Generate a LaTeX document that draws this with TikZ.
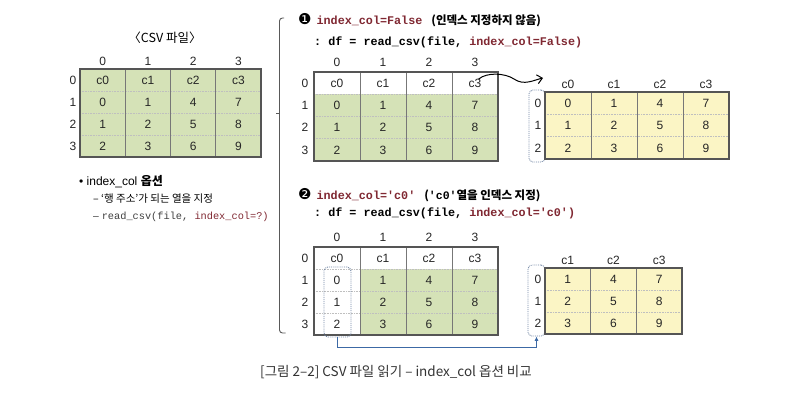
\documentclass[tikz,border=0pt]{standalone}
\usepackage{fontspec}
\setmainfont{Liberation Sans}
\setmonofont{Liberation Mono}
\newfontfamily\kr{Noto Sans CJK KR}
\newfontfamily\dingfont{DejaVu Sans}
\usetikzlibrary{arrows.meta, positioning, calc}

\definecolor{cellgreen}{RGB}{213,226,183}
\definecolor{cellyellow}{RGB}{251,245,197}
\definecolor{gridgray}{RGB}{85,85,85}
\definecolor{codered}{RGB}{128,40,50}
\definecolor{idxblue}{RGB}{115,135,165}
\definecolor{linkblue}{RGB}{60,105,165}

\begin{document}
\begin{tikzpicture}[x=1pt, y=-1pt,
  cell/.style={font=\fontsize{12}{14}\selectfont, text=black!85, text height=8.6pt, text depth=0pt, inner sep=1pt},
  frame/.style={draw=gridgray, line width=1.2pt},
  colline/.style={draw=gridgray!80, line width=0.6pt},
  rowline/.style={draw=gray!50, densely dotted, line width=0.6pt},
  idxbox/.style={draw=idxblue, densely dotted, rounded corners=4pt, line width=0.9pt, inner sep=0pt},
  heading/.style={font=\fontsize{11.5}{13}\selectfont, anchor=west, inner sep=0pt},
  codeline/.style={font=\ttfamily\bfseries\fontsize{11.75}{14}\selectfont, anchor=west, inner sep=0pt},
  note/.style={font=\fontsize{11.5}{13}\selectfont, anchor=west, inner sep=0pt},
  bracket/.style={draw=gray!70!black, line width=0.9pt, rounded corners=3pt},
  curvearr/.style={-{Straight Barb[length=5pt, width=9pt]}, line width=1pt},
  linkarr/.style={-{Latex[length=4.5pt, width=4pt]}, draw=linkblue, line width=0.8pt},
]
  \fill[white] (0,0) rectangle (788,418);
  \useasboundingbox (0,0) rectangle (788,418);

  % CSV file
  \node[font=\kr\fontsize{12.5}{15}\selectfont] (csvtitle) at (165,38) {〈CSV 파일〉};
  \fill[cellgreen] (80,69) rectangle (261,157);
  \foreach \y in {91,113,135} \draw[rowline] (80,\y) -- (261,\y);
  \foreach \x in {125.25,170.5,215.75} \draw[colline] (\x,69) -- (\x,157);
  \draw[frame] (80,69) rectangle (261,157);
  \foreach \c in {0,...,3} \node[cell] (csvcol\c) at (102.6+45.25*\c,61) {\c};
  \foreach \row [count=\r from 0] in {{c0,c1,c2,c3},{0,1,4,7},{1,2,5,8},{2,3,6,9}} {
    \node[cell] (csvrow\r) at (73,80+22*\r) {\r};
    \foreach \v [count=\c from 0] in \row
      \node[cell] (csv-\r-\c) at (102.6+45.25*\c,80+22*\r) {\v};
  }

  % index_col note
  \node[note, font=\fontsize{12}{14}\selectfont] (optitle) at (79,182) {• index\_col {\kr\bfseries 옵션}};
  \node[note, font=\kr\fontsize{10.5}{13}\selectfont] (opline1) at (93,199) {– ‘행 주소’가 되는 열을 지정};
  \node[note, font=\fontsize{10.3}{12}\selectfont, text=black!75] (opline2) at (93,217) {– {\ttfamily read\_csv(file, \textcolor{codered}{index\_col=?)}}};

  % bracket
  \draw[bracket] (284,18) -- (279.5,18) -- (279.5,333) -- (285.5,333);
  \draw[bracket] (276,113.5) -- (279.5,113.5);

  % index_col=False
  \node[heading] (head1) at (298,20) {{\dingfont\fontsize{15}{16}\selectfont ❶}\hspace{5pt}{\ttfamily\bfseries\fontsize{11.75}{14}\selectfont\color{codered}index\_col=False}\hspace{9pt}{\kr\bfseries (인덱스 지정하지 않음)}};
  \node[codeline] (code1) at (314,42) {: df = read\_csv(file, \textcolor{codered}{index\_col=False)}};
  \fill[cellgreen] (314,94.25) rectangle (498,161);
  \foreach \y in {94.25,116.5,138.75} \draw[rowline] (314,\y) -- (498,\y);
  \foreach \x in {360,406,452} \draw[colline] (\x,72) -- (\x,161);
  \draw[frame] (314,72) rectangle (498,161);
  \foreach \c in {0,...,3} \node[cell] (fcol\c) at (337+46*\c,62) {\c};
  \foreach \row [count=\r from 0] in {{c0,c1,c2,c3},{0,1,4,7},{1,2,5,8},{2,3,6,9}} {
    \node[cell] (frow\r) at (305,83.1+22.25*\r) {\r};
    \foreach \v [count=\c from 0] in \row
      \node[cell] (f-\r-\c) at (337+46*\c,83.1+22.25*\r) {\v};
  }

  % result with default index
  \fill[cellyellow] (545,92) rectangle (729,159);
  \foreach \y in {114.33,136.67} \draw[rowline] (545,\y) -- (729,\y);
  \foreach \x in {591,637,683} \draw[colline] (\x,92) -- (\x,159);
  \node[idxbox, minimum width=16pt, minimum height=72pt] (fidx) at (537,126) {};
  \draw[frame] (545,92) rectangle (729,159);
  \foreach \t [count=\c from 0] in {c0,c1,c2,c3} \node[cell] (rfcol\c) at (568+46*\c,84) {\t};
  \foreach \row [count=\r from 0] in {{0,1,4,7},{1,2,5,8},{2,3,6,9}} {
    \node[cell] (rfrow\r) at (538,103.2+22.33*\r) {\r};
    \foreach \v [count=\c from 0] in \row
      \node[cell] (rf-\r-\c) at (568+46*\c,103.2+22.33*\r) {\v};
  }

  % index_col='c0'
  \node[heading] (head2) at (298,195) {{\dingfont\fontsize{15}{16}\selectfont ❷}\hspace{5pt}{\ttfamily\bfseries\fontsize{11.75}{14}\selectfont\color{codered}index\_col='c0'}\hspace{9pt}{\kr\bfseries (}{\ttfamily\bfseries 'c0'}{\kr\bfseries 열을 인덱스 지정)}};
  \node[codeline] (code2) at (314,213) {: df = read\_csv(file, \textcolor{codered}{index\_col='c0')}};
  \fill[cellgreen] (360,269) rectangle (498,335);
  \foreach \y in {269,291,313} \draw[rowline] (314,\y) -- (498,\y);
  \foreach \x in {360,406,452} \draw[colline] (\x,247) -- (\x,335);
  \draw[frame] (314,247) rectangle (498,335);
  \foreach \c in {0,...,3} \node[cell] (ccol\c) at (337+46*\c,237) {\c};
  \foreach \row [count=\r from 0] in {{c0,c1,c2,c3},{0,1,4,7},{1,2,5,8},{2,3,6,9}} {
    \node[cell] (crow\r) at (305,258+22*\r) {\r};
    \foreach \v [count=\c from 0] in \row
      \node[cell] (c-\r-\c) at (337+46*\c,258+22*\r) {\v};
  }
  \node[idxbox, minimum width=27pt, minimum height=70pt] (cidx) at (337.5,302) {};

  % result with c0 as index
  \fill[cellyellow] (545,268) rectangle (682,334);
  \foreach \y in {290,312} \draw[rowline] (545,\y) -- (682,\y);
  \foreach \x in {590.67,636.33} \draw[colline] (\x,268) -- (\x,334);
  \node[idxbox, minimum width=17pt, minimum height=71pt] (ridx) at (536.5,300.5) {};
  \draw[frame] (545,268) rectangle (682,334);
  \foreach \t [count=\c from 0] in {c1,c2,c3} \node[cell] (rccol\c) at (567.8+45.67*\c,260) {\t};
  \foreach \row [count=\r from 0] in {{1,4,7},{2,5,8},{3,6,9}} {
    \node[cell] (rcrow\r) at (538,279+22*\r) {\r};
    \foreach \v [count=\c from 0] in \row
      \node[cell] (rc-\r-\c) at (567.8+45.67*\c,279+22*\r) {\v};
  }

  % Arrows
  \coordinate (curvetip) at (543,78);
  \draw[curvearr] ([xshift=-4pt,yshift=4pt]f-0-3.east) .. controls (487,72) and (505,73) .. (514,79) .. controls (524,86) and (534,80) .. (curvetip);
  \draw[linkarr] (cidx.south) -- ++(0,10) -| (ridx.south);

  % Caption
  \node[font=\kr\fontsize{13.5}{16}\selectfont, text=black!80] (caption) at (396,372) {[그림 2–2] CSV 파일 읽기 – index\_col 옵션 비교};
\end{tikzpicture}
\end{document}
